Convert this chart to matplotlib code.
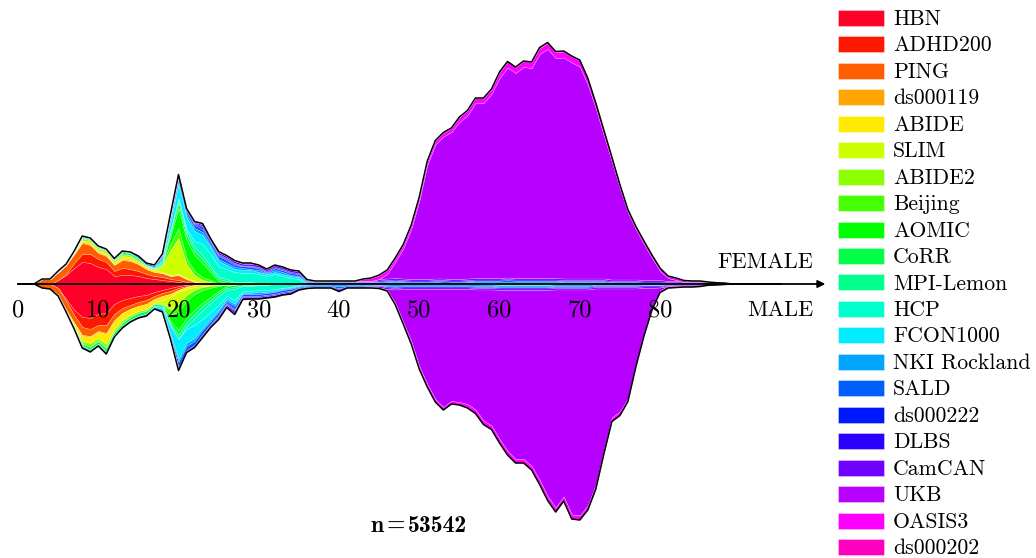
import numpy as np
import matplotlib.pyplot as plt
from matplotlib.patches import Rectangle

# subjects per year of age, female (F) above the axis, male (M) below
AGES = np.arange(0, 96)
TICKS = [0, 10, 20, 30, 40, 50, 60, 70, 80]
N_TOTAL = 53542

DATASETS = ["HBN", "ADHD200", "PING", "ds000119", "ABIDE", "SLIM", "ABIDE2",
            "Beijing", "AOMIC", "CoRR", "MPI-Lemon", "HCP", "FCON1000",
            "NKI Rockland", "SALD", "ds000222", "DLBS", "CamCAN", "UKB",
            "OASIS3", "ds000202"]


def fill(*segments):
    """Place (first_age, counts) runs onto the full age grid."""
    out = np.zeros(len(AGES))
    for start, vals in segments:
        out[start:start + len(vals)] = vals
    return out


HBN_F = fill((5, [16, 36, 64, 88, 84, 68, 60, 32, 36, 36, 32, 24, 20, 16, 12, 8, 4]))
HBN_M = fill((5, [16, 60, 104, 132, 136, 120, 116, 80, 64, 56, 48, 44, 32, 24, 16, 8, 4]))
ADHD200_F = fill((6, [4, 20, 32, 36, 32, 28, 20, 28, 24, 20, 16, 12, 12, 8, 8, 4, 4]))
ADHD200_M = fill((6, [8, 20, 40, 44, 44, 48, 40, 32, 28, 24, 20, 16, 12, 12, 8, 4, 4]))
PING_F = fill((3, [20, 20, 32, 36, 36, 44, 36, 24, 24, 24, 32, 32, 28, 20, 16, 16, 12, 20, 12, 4]))
PING_M = fill((3, [16, 20, 28, 36, 32, 32, 28, 24, 32, 24, 20, 16, 16, 16, 12, 12, 12, 8, 4]))
DS119_F = fill((8, [4, 4, 4, 4, 2, 4, 4]))
DS119_M = fill((8, [4, 4, 4, 4, 4]))
ABIDE_F = fill((7, [4, 8, 8, 8, 8, 8, 12, 12, 8, 8, 8, 4, 4, 4, 4, 4, 4, 4]))
ABIDE_M = fill((6, [4, 12, 20, 24, 24, 40, 32, 28, 24, 20, 20, 16, 16, 12, 8, 8, 8, 8, 8, 4, 4, 4]))
SLIM_F = fill((17, [0, 24, 100, 144, 56, 24, 12, 4, 0]))
SLIM_M = fill((17, [0, 12, 48, 48, 24, 12, 4, 0]))
ABIDE2_F = fill((6, [2, 4, 8, 8, 8, 8, 8, 8, 8, 8, 4, 4, 4]))
ABIDE2_M = fill((7, [4, 12, 16, 12, 16, 12, 12, 8, 8, 8, 4, 4, 4]))
BEIJING_F = fill((18, [4, 24, 40, 24, 16, 12, 8, 0]))
BEIJING_M = fill((18, [4, 20, 32, 24, 16, 12, 8, 4, 0]))
AOMIC_F = fill((18, [4, 32, 80, 72, 64, 56, 32, 12, 4, 0]))
AOMIC_M = fill((18, [0, 24, 72, 68, 64, 52, 36, 20, 4, 0]))
CORR_F = fill((7, [0, 4, 4, 4, 4, 4, 8, 8, 8, 4, 4, 8, 16, 24, 20, 16, 16, 12, 8, 8, 4, 4, 4, 4, 4, 4]))
CORR_M = fill((7, [4, 8, 12, 12, 16, 12, 12, 12, 12, 12, 8, 8, 12, 20, 16, 16, 12, 12, 8, 8, 8, 4, 4, 4, 4]))
MPI_F = fill((19, [8, 16, 16, 16, 16, 12, 8, 8, 4, 4, 4]),
             (58, [2, 4, 4, 4, 4, 4, 4, 4, 4, 4, 2, 2, 2, 2, 2, 2, 0]))
MPI_M = fill((19, [8, 16, 16, 16, 16, 12, 12, 8, 8, 4, 4]),
             (58, [2, 2, 4, 4, 4, 4, 4, 4, 4, 2, 2, 2, 2, 2, 0]))
HCP_F = fill((21, [8, 24, 44, 48, 44, 40, 40, 36, 36, 36, 28, 36, 32, 24, 20]))
HCP_M = fill((21, [12, 28, 36, 36, 36, 24, 44, 20, 20, 20, 20, 20, 16, 12, 4]))
FCON_F = fill((17, [4, 12, 32, 56, 48, 40, 36, 28, 20, 16, 12, 12, 12, 8, 8, 8, 8, 8, 8, 4,
                    2, 2, 2, 2, 2, 2, 2, 2]))
FCON_M = fill((17, [4, 8, 32, 80, 56, 52, 36, 28, 20, 12, 16, 8, 8, 8, 8, 8, 4, 4, 4, 4,
                    2, 2, 2, 2, 2, 2, 2, 2]))
NKI_F = fill((5, [4, 2, 4, 4, 4, 4, 4, 4, 4, 4]),
             (15, [8, 8, 8, 8, 12, 12, 12, 12, 12, 8]),
             (25, [8, 8, 8, 8, 4, 8, 4, 8, 8, 4]),
             (35, [4, 4, 4, 4, 4, 4, 4, 4, 4, 4]),
             (45, [6, 8, 10, 8, 6, 6, 6, 8, 6, 6]),
             (55, [6, 8, 10, 8, 6, 6, 6, 6, 6, 6]),
             (65, [6, 6, 6, 6, 6, 6, 6, 6, 6, 4]),
             (75, [4, 4, 4, 4, 4, 4, 4, 4, 2, 2, 2, 0]))
NKI_M = fill((5, [4, 4, 4, 8, 8, 8, 8, 8, 8, 8]),
             (15, [8, 8, 8, 8, 8, 12, 12, 12, 8, 8]),
             (25, [8, 8, 8, 4, 4, 8, 4, 4, 4, 4]),
             (35, [4, 4, 4, 4, 4, 8, 4, 4, 4, 4]),
             (45, [4, 6, 8, 6, 6, 6, 6, 6, 6, 6]),
             (55, [6, 6, 8, 6, 6, 6, 6, 6, 6, 6]),
             (65, [6, 6, 6, 6, 6, 6, 6, 4, 4, 4]),
             (75, [4, 4, 4, 4, 4, 4, 2, 2, 2, 2, 2, 0]))
SALD_F = fill((18, [4, 12, 16, 12, 12, 12, 12, 12, 12, 8]),
              (28, [8, 8, 8, 4, 8, 8, 8, 8, 4, 2]),
              (38, [2, 2, 2, 2, 2, 2, 2, 4, 4, 4]),
              (48, [4, 4, 4, 4, 4, 6, 4, 4, 4, 4]),
              (58, [4, 4, 4, 6, 4, 4, 4, 4, 4, 4]),
              (68, [4, 4, 4, 4, 4, 4, 4, 4, 4, 4]),
              (78, [2, 2, 2, 0]))
SALD_M = fill((18, [4, 8, 20, 16, 16, 16, 12, 12, 8, 12]),
              (28, [8, 8, 8, 8, 8, 8, 8, 4, 4, 4]),
              (38, [4, 4, 8, 4, 4, 4, 2, 2, 4, 4]),
              (48, [4, 4, 4, 4, 4, 4, 4, 4, 4, 4]),
              (58, [4, 4, 4, 4, 4, 4, 4, 4, 4, 4]),
              (68, [4, 4, 4, 4, 4, 4, 4, 4, 4, 4]),
              (78, [2, 2, 2, 0]))
DS222_F = fill((19, [4, 4, 4, 4, 8, 4, 4, 4, 4, 0, 4, 0]))
DS222_M = fill((20, [4, 4, 4, 4, 4, 4, 4, 4, 0]))
DLBS_F = fill((21, [0, 4, 4, 4, 4, 4, 4, 2, 2, 4]),
              (31, [4, 4, 4, 4, 4, 2, 2, 2, 2, 2]),
              (41, [2, 2, 2, 2, 4, 4, 4, 4, 4, 4]),
              (51, [4, 4, 4, 4, 4, 4, 4, 4, 4, 4]),
              (61, [4, 4, 4, 4, 4, 4, 4, 4, 4, 4]),
              (71, [4, 4, 4, 4, 4, 4, 4, 4, 4, 4]),
              (81, [4, 4, 2, 2, 2, 2, 2, 2, 0]))
DLBS_M = fill((20, [4, 0, 0, 4, 4, 4, 4, 4, 4, 4]),
              (30, [4, 4, 4, 4, 4, 4, 2, 2, 2, 2]),
              (40, [4, 2, 2, 2, 2, 2, 4, 4, 4, 4]),
              (50, [4, 4, 4, 4, 4, 4, 4, 4, 4, 4]),
              (60, [4, 4, 4, 4, 4, 4, 4, 4, 4, 4]),
              (70, [4, 4, 4, 4, 4, 4, 4, 4, 4, 4]),
              (80, [4, 2, 2, 2, 2, 2, 2, 2, 0]))
CAMCAN_F = fill((18, [4, 4, 4, 4, 4, 8, 4, 8, 8, 8]),
                (28, [8, 8, 8, 8, 8, 8, 8, 8, 4, 2]),
                (38, [2, 2, 2, 2, 2, 2, 2, 6, 6, 6]),
                (48, [6, 6, 6, 6, 6, 6, 6, 6, 6, 6]),
                (58, [6, 6, 6, 6, 6, 6, 6, 6, 6, 6]),
                (68, [6, 6, 6, 6, 6, 6, 6, 6, 6, 6]),
                (78, [6, 6, 6, 4, 4, 4, 4, 4, 4, 2, 2, 0]))
CAMCAN_M = fill((19, [4, 4, 4, 4, 4, 4, 8, 8, 12, 8]),
                (29, [8, 8, 8, 8, 8, 8, 4, 4, 4, 4]),
                (39, [4, 8, 4, 4, 4, 2, 6, 6, 6, 6]),
                (49, [6, 6, 6, 6, 6, 6, 6, 6, 6, 6]),
                (59, [6, 6, 6, 6, 6, 6, 6, 6, 6, 6]),
                (69, [6, 6, 6, 6, 6, 6, 6, 6, 6, 6]),
                (79, [6, 4, 4, 4, 4, 4, 4, 2, 2, 2, 0]))
UKB_F = fill((45, [0, 18, 64, 120, 200, 312, 456, 536, 568, 588]),
             (55, [628, 652, 700, 700, 736, 800, 840, 820, 844, 840]),
             (65, [896, 916, 880, 884, 864, 848, 776, 680, 572, 472]),
             (75, [364, 268, 200, 144, 88, 36, 12, 4, 0]))
UKB_M = fill((46, [4, 52, 132, 208, 308, 380, 440, 472, 448, 452]),
             (56, [460, 480, 524, 544, 596, 644, 676, 676, 704, 760]),
             (66, [824, 872, 828, 900, 904, 864, 784, 644, 516, 492]),
             (76, [440, 300, 180, 80, 12, 0]))
OASIS3_F = fill((42, [0, 8, 12, 16, 16, 16, 16, 16, 16, 16]),
                (52, [16, 16, 16, 20, 20, 20, 20, 20, 24, 24]),
                (62, [24, 24, 24, 24, 24, 24, 24, 24, 24, 24]),
                (72, [20, 20, 16, 16, 12, 12, 12, 12, 12, 8]),
                (82, [8, 6, 4, 4, 2, 1, 0]))
OASIS3_M = fill((43, [0, 4, 4, 4, 8, 8, 12, 12, 12, 12]),
                (53, [12, 12, 12, 16, 16, 16, 16, 16, 16, 16]),
                (63, [16, 16, 16, 16, 16, 16, 16, 16, 16, 16]),
                (73, [16, 16, 16, 12, 12, 12, 8, 8, 8, 6]),
                (83, [4, 4, 2, 1, 0]))
DS202_F = fill((20, [2, 2, 2, 2, 2, 2, 2, 2, 2, 2, 0]), (65, [2, 2, 2, 2, 2, 2, 2, 2, 2, 2, 0]))
DS202_M = fill((20, [2, 2, 2, 2, 2, 2, 2, 2, 2, 0]), (65, [2, 2, 2, 2, 2, 2, 2, 2, 2, 0]))

FEMALE = [HBN_F, ADHD200_F, PING_F, DS119_F, ABIDE_F, SLIM_F, ABIDE2_F, BEIJING_F,
          AOMIC_F, CORR_F, MPI_F, HCP_F, FCON_F, NKI_F, SALD_F, DS222_F, DLBS_F,
          CAMCAN_F, UKB_F, OASIS3_F, DS202_F]
MALE = [HBN_M, ADHD200_M, PING_M, DS119_M, ABIDE_M, SLIM_M, ABIDE2_M, BEIJING_M,
        AOMIC_M, CORR_M, MPI_M, HCP_M, FCON_M, NKI_M, SALD_M, DS222_M, DLBS_M,
        CAMCAN_M, UKB_M, OASIS3_M, DS202_M]

plt.rcParams['font.family'] = 'cmr10'
colors = plt.cm.gist_rainbow(np.linspace(0, 1, len(DATASETS)))

W, H = 1036, 558
fig = plt.figure(figsize=(W / 100, H / 100), dpi=100)
ax = fig.add_axes([0, 0, 1, 1])

cum_f = np.vstack([np.zeros(len(AGES)), np.cumsum(FEMALE, axis=0)])
cum_m = np.vstack([np.zeros(len(AGES)), np.cumsum(MALE, axis=0)])
for i, c in enumerate(colors):
    ax.fill_between(AGES, cum_f[i], cum_f[i + 1], facecolor=c,
                    edgecolor=(1, 1, 1, 0.35), lw=0.4)
    ax.fill_between(AGES, -cum_m[i], -cum_m[i + 1], facecolor=c,
                    edgecolor=(1, 1, 1, 0.35), lw=0.4)

ax.plot(AGES, cum_f[-1], color='k', lw=1.1)
ax.plot(AGES, -cum_m[-1], color='k', lw=1.1)

# age axis drawn as an arrow through zero
ax.annotate('', xy=(100.6, 0), xytext=(0, 0),
            arrowprops=dict(arrowstyle='-|>', color='k', lw=1.3,
                            mutation_scale=11, shrinkA=0, shrinkB=0))

ax.set_xlim(-18 / 8.025, (W - 18) / 8.025)
ax.set_ylim(-(H - 284) * 4, 284 * 4)
for side in ['top', 'right', 'left', 'bottom']:
    ax.spines[side].set_visible(False)
ax.spines['bottom'].set_position(('data', 0))
ax.set_yticks([])
ax.set_xticks(TICKS)
ax.set_xticklabels([str(t) for t in TICKS])
ax.tick_params(axis='x', length=0, pad=11, labelsize=17.5)
ax.patch.set_alpha(0)

ax.text(813 / W, 1 - 268 / H, 'FEMALE', transform=ax.transAxes,
        ha='right', va='baseline', fontsize=16)
ax.text(813 / W, 1 - 316 / H, 'MALE', transform=ax.transAxes,
        ha='right', va='baseline', fontsize=16)

# sample size, set like "n = 53542" in bold
n_y = 1 - 532 / H
bold = dict(family='cmb10', fontsize=17, va='baseline')
fig.text(384 / W, n_y, 'n', ha='right', **bold)
fig.text(396 / W, n_y, '=', ha='center', **bold)
fig.text(408 / W, n_y, str(N_TOTAL), ha='left', **bold)

# legend column on the right
for i, (name, c) in enumerate(zip(DATASETS, colors)):
    yc = 18 + i * 26.45
    fig.add_artist(Rectangle((838 / W, 1 - (yc + 8) / H), 46 / W, 16 / H,
                             transform=fig.transFigure, facecolor=c,
                             edgecolor=(1, 1, 1, 0.5), lw=0.5))
    fig.text(893 / W, 1 - (yc + 7) / H, name, ha='left', va='baseline',
             fontsize=15.7)

fig.savefig('out.png', dpi=100)
